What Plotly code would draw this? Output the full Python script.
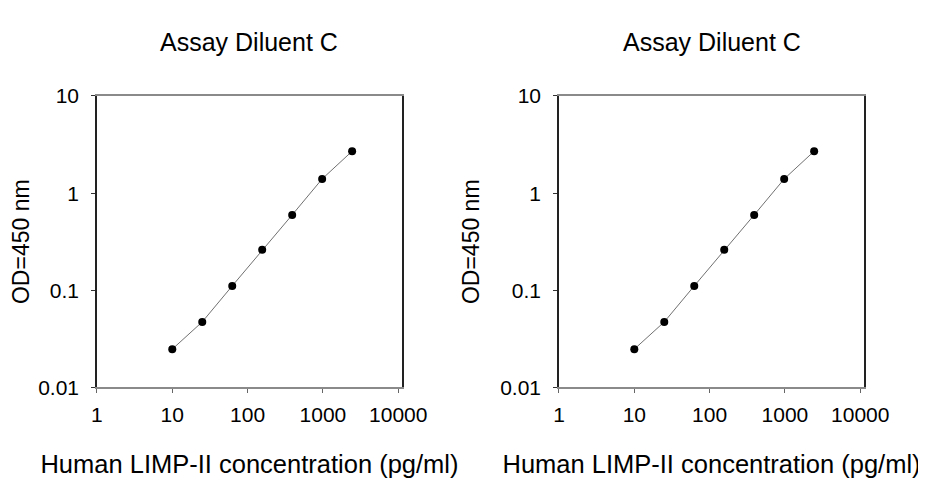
import plotly.graph_objects as go
from plotly.subplots import make_subplots

# standard curve, Human LIMP-II ELISA
conc = [10, 25, 62.5, 156.25, 390.625, 976.5625, 2441.41]
od_left = [0.0248, 0.0473, 0.111, 0.261, 0.597, 1.40, 2.70]
od_right = [0.0248, 0.0473, 0.111, 0.261, 0.597, 1.40, 2.70]

titles = ["Assay Diluent C", "Assay Diluent C"]
xtick_vals = [1, 10, 100, 1000, 10000]
xtick_text = ["1", "10", "100", "1000", "10000"]
ytick_vals = [0.01, 0.1, 1, 10]
ytick_text = ["0.01", "0.1", "1", "10"]

font = "Liberation Sans, Arial, sans-serif"

fig = make_subplots(rows=1, cols=2)

for col, od in [(1, od_left), (2, od_right)]:
    fig.add_trace(go.Scatter(
        x=conc, y=od, mode="lines+markers",
        line=dict(color="#707070", width=1),
        marker=dict(color="black", size=8),
        showlegend=False), row=1, col=col)

    fig.update_xaxes(
        type="log", range=[0, 4.05], automargin=False,
        tickvals=xtick_vals, ticktext=xtick_text,
        ticks="outside", ticklen=4, tickcolor="#666",
        ticklabelstandoff=4,
        showline=True, linecolor="#8a8a8a", linewidth=1.5, mirror=True,
        showgrid=False, zeroline=False,
        tickfont=dict(size=21, color="black"),
        title=dict(text="Human LIMP-II concentration (pg/ml)",
                   font=dict(size=25.5, color="black"), standoff=30),
        row=1, col=col)
    fig.update_yaxes(
        type="log", range=[-2, 1], automargin=False,
        tickvals=ytick_vals, ticktext=ytick_text,
        ticks="outside", ticklen=4, tickcolor="#333",
        ticklabelstandoff=8,
        showline=True, linecolor="#222", linewidth=1.5, mirror=True,
        showgrid=False, zeroline=False,
        tickfont=dict(size=21, color="black"),
        title=dict(text="OD=450 nm", font=dict(size=23, color="black"),
                   standoff=14),
        row=1, col=col)

# page body adds an 8px margin, so the figure is 918x472
fig.update_xaxes(domain=[0.0969, 0.4292], row=1, col=1)
fig.update_xaxes(domain=[0.6002, 0.9325], row=1, col=2)
fig.update_yaxes(domain=[0.196, 0.8136])

for i, t in enumerate(titles):
    xref = "x domain" if i == 0 else "x2 domain"
    fig.add_annotation(text=t, xref=xref, yref="paper", x=0.5, y=0.928,
                       xanchor="center", yanchor="middle", showarrow=False,
                       font=dict(size=25, color="black"))

fig.update_layout(
    width=918, height=472,
    margin=dict(l=0, r=0, t=0, b=0),
    paper_bgcolor="white", plot_bgcolor="white",
    font=dict(family=font, color="black"),
)

fig.write_html("out.html")
